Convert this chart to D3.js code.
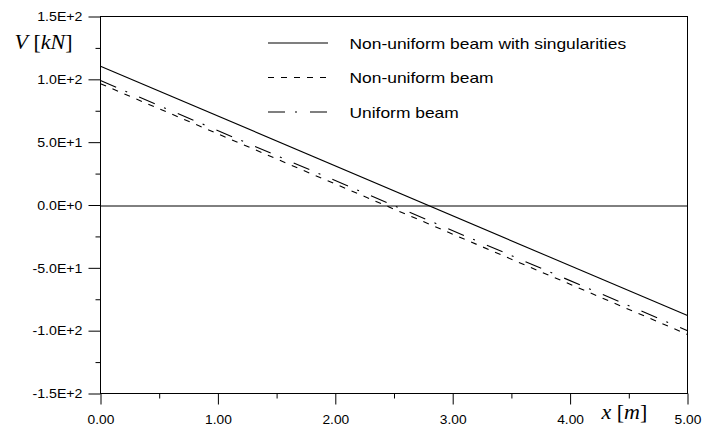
<!DOCTYPE html>
<html>
<head>
<meta charset="utf-8">
<script src="https://cdn.jsdelivr.net/npm/d3@7"></script>
<style>
    body { margin: 0; background: #fff; }
    .tick text { font-family: "Liberation Sans", Arial, sans-serif; font-size: 13px; fill: #000; }
    .domain { display: none; }
    .legend text { font-family: "Liberation Sans", Arial, sans-serif; font-size: 15px; fill: #000; }
    .axis-title { font-family: "Liberation Serif", "Times New Roman", serif; font-size: 22px; fill: #000; }
</style>
</head>
<body>
<div id="chart"></div>
<script>
// values
const xValues = [0, 5];
const vSingular = [110.5, -88];
const vNonUniform = [96.5, -103];
const vUniform = [99, -100];

const seriesNames = ["Non-uniform beam with singularities", "Non-uniform beam", "Uniform beam"];

const yTicks = [-150, -100, -50, 0, 50, 100, 150];
const yTickLabels = ["-1.5E+2", "-1.0E+2", "-5.0E+1", "0.0E+0", "5.0E+1", "1.0E+2", "1.5E+2"];
const yMinorTicks = [-125, -75, -25, 25, 75, 125];
const xTicks = [0, 1, 2, 3, 4, 5];
const xTickLabels = ["0.00", "1.00", "2.00", "3.00", "4.00", "5.00"];
const xMinorTicks = [0.5, 1.5, 2.5, 3.5, 4.5];

let margin = {top: 16.5, right: 18.5, bottom: 39.5, left: 100.5};
let width = 706 - margin.left - margin.right;
let height = 433 - margin.top - margin.bottom;

let svg = d3.select("#chart").append("svg")
    .attr("width", 706)
    .attr("height", 433)
    .append("g")
    .attr("transform", "translate(" + margin.left + "," + margin.top + ")");

let x = d3.scaleLinear().domain([0, 5]).range([0, width]);
let y = d3.scaleLinear().domain([-150, 150]).range([height, 0]);

// stretch text a bit wider, the original fonts are broader than Arial
function stretch(sel, k) {
    sel.each(function () {
        let w = this.getComputedTextLength();
        d3.select(this).attr("textLength", w * k).attr("lengthAdjust", "spacingAndGlyphs");
    });
}

// axes
let yAxis = svg.append("g")
    .call(d3.axisLeft(y).tickValues(yTicks)
        .tickFormat((d, i) => yTickLabels[i])
        .tickSize(12).tickPadding(6));
yAxis.selectAll("line").attr("stroke", "#000");
stretch(yAxis.selectAll("text"), 1.09);

svg.append("g")
    .call(d3.axisLeft(y).tickValues(yMinorTicks).tickFormat("").tickSize(5))
    .selectAll("line").attr("stroke", "#000");

let xAxis = svg.append("g")
    .attr("transform", "translate(0," + height + ")")
    .call(d3.axisBottom(x).tickValues(xTicks)
        .tickFormat((d, i) => xTickLabels[i])
        .tickSize(11).tickPadding(10));
xAxis.selectAll("line").attr("stroke", "#000");
stretch(xAxis.selectAll("text"), 1.06);

svg.append("g")
    .attr("transform", "translate(0," + height + ")")
    .call(d3.axisBottom(x).tickValues(xMinorTicks).tickFormat("").tickSize(5))
    .selectAll("line").attr("stroke", "#000");

// frame and zero line
svg.append("rect")
    .attr("width", width).attr("height", height)
    .attr("fill", "none").attr("stroke", "#000").attr("stroke-width", 1);

svg.append("line")
    .attr("x1", 0).attr("x2", width)
    .attr("y1", Math.round(y(0)) + 0.5).attr("y2", Math.round(y(0)) + 0.5)
    .attr("stroke", "#000").attr("stroke-width", 1);

// lines
let series = [
    {name: seriesNames[0], values: vSingular, dash: null},
    {name: seriesNames[1], values: vNonUniform, dash: "6,7"},
    {name: seriesNames[2], values: vUniform, dash: "17,10,2,13"}
];

let line = d3.line()
    .x(d => x(d[0]))
    .y(d => y(d[1]));

svg.selectAll(".series")
    .data(series)
    .enter().append("path")
    .attr("class", "series")
    .attr("d", d => line(xValues.map((xv, i) => [xv, d.values[i]])))
    .attr("fill", "none")
    .attr("stroke", "#000")
    .attr("stroke-width", 1.1)
    .attr("stroke-dasharray", d => d.dash);

// legend
let legend = svg.append("g").attr("class", "legend");
let rows = legend.selectAll("g")
    .data(series)
    .enter().append("g")
    .attr("transform", (d, i) => "translate(0," + (26.5 + i * 34.5) + ")");

rows.append("line")
    .attr("x1", 167.5).attr("x2", 227.5)
    .attr("y1", 0).attr("y2", 0)
    .attr("stroke", "#000")
    .attr("stroke-width", 1.1)
    .attr("stroke-dasharray", d => d.dash);

rows.append("text")
    .attr("x", 249)
    .attr("y", 5.5)
    .text(d => d.name);
stretch(rows.selectAll("text"), 1.16);

// axis titles
let vTitle = svg.append("text")
    .attr("class", "axis-title")
    .attr("x", -86)
    .attr("y", 32);
vTitle.append("tspan").attr("font-style", "italic").text("V");
vTitle.append("tspan").text(" [");
vTitle.append("tspan").attr("font-style", "italic").text("kN");
vTitle.append("tspan").text("]");

let xTitle = svg.append("text")
    .attr("class", "axis-title")
    .attr("x", 501)
    .attr("y", height + 25);
xTitle.append("tspan").attr("font-style", "italic").text("x");
xTitle.append("tspan").text(" [");
xTitle.append("tspan").attr("font-style", "italic").text("m");
xTitle.append("tspan").text("]");
</script>
</body>
</html>
